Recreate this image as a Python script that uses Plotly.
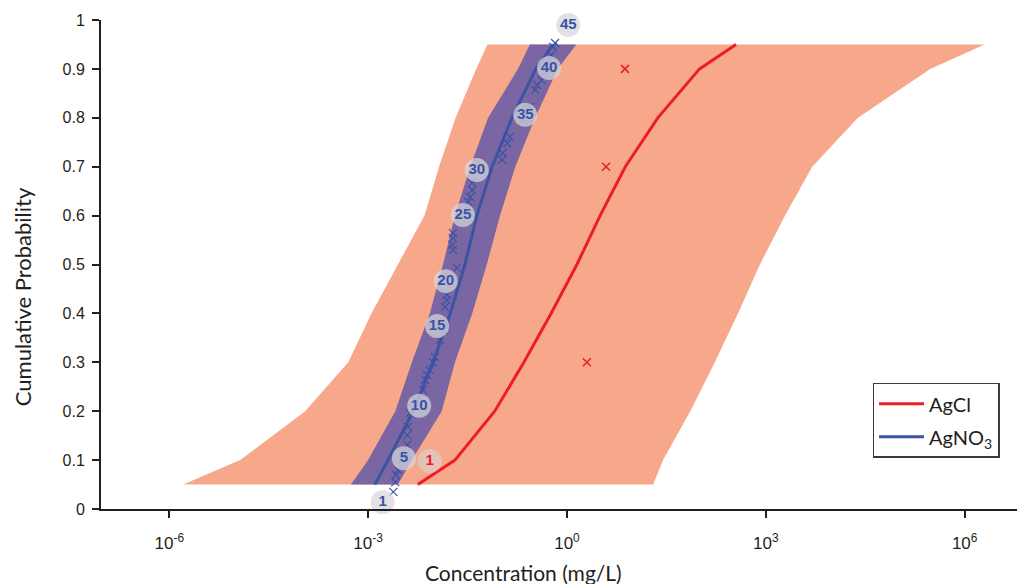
import plotly.graph_objects as go

# ---------------- data (x values are log10 of concentration, mg/L) ----------------
band_p = [0.05, 0.1, 0.2, 0.3, 0.4, 0.5, 0.6, 0.7, 0.8, 0.9, 0.95]

agcl_lo = [-5.79, -4.93, -3.95, -3.30, -2.95, -2.55, -2.15, -1.93, -1.68, -1.37, -1.20]
agcl_hi = [1.30, 1.45, 1.86, 2.23, 2.58, 2.91, 3.29, 3.70, 4.39, 5.48, 6.30]
agcl_med = [-2.25, -1.69, -1.09, -0.65, -0.24, 0.15, 0.50, 0.88, 1.37, 2.00, 2.55]

agno3_lo = [-3.26, -3.00, -2.59, -2.34, -2.07, -1.87, -1.69, -1.46, -1.19, -0.74, -0.56]
agno3_hi = [-2.55, -2.34, -1.89, -1.69, -1.43, -1.21, -1.01, -0.78, -0.48, -0.14, 0.14]
agno3_med = [-2.90, -2.70, -2.32, -2.02, -1.76, -1.54, -1.36, -1.13, -0.83, -0.47, -0.21]

agcl_obs_x = [0.875, 0.59, 0.30]
agcl_obs_p = [0.90, 0.70, 0.30]

agno3_obs_x = [-2.62, -2.59, -2.58, -2.55, -2.47, -2.44, -2.41, -2.41, -2.40, -2.37,
               -2.28, -2.17, -2.14, -2.11, -2.07, -2.02, -1.99, -1.92, -1.87, -1.84,
               -1.81, -1.81, -1.66, -1.72, -1.73, -1.72, -1.72, -1.49, -1.46, -1.43,
               -1.43, -0.98, -0.97, -0.90, -0.86, -0.66, -0.56, -0.48, -0.45, -0.38,
               -0.33, -0.29, -0.24, -0.21, -0.18]
agno3_obs_p = [0.035, 0.055, 0.070, 0.080, 0.102, 0.115, 0.131, 0.151, 0.168, 0.196,
               0.223, 0.243, 0.264, 0.274, 0.284, 0.299, 0.311, 0.346, 0.366, 0.413,
               0.427, 0.438, 0.493, 0.530, 0.540, 0.554, 0.564, 0.628, 0.638, 0.652,
               0.667, 0.714, 0.728, 0.748, 0.761, 0.795, 0.822, 0.857, 0.867, 0.877,
               0.892, 0.914, 0.928, 0.945, 0.953]

agno3_lbl = ["1", "5", "10", "15", "20", "25", "30", "35", "40", "45"]
agno3_lbl_x = [-2.78, -2.46, -2.23, -1.96, -1.83, -1.57, -1.36, -0.63, -0.27, 0.02]
agno3_lbl_p = [0.014, 0.104, 0.211, 0.374, 0.466, 0.601, 0.693, 0.806, 0.902, 0.990]

agcl_lbl = ["1"]
agcl_lbl_x = [-2.07]
agcl_lbl_p = [0.098]

x_tick_exp = [-6, -3, 0, 3, 6]
y_ticks = [0, 0.1, 0.2, 0.3, 0.4, 0.5, 0.6, 0.7, 0.8, 0.9, 1]

# ---------------- styling ----------------
SALMON = "#F7A88B"
PURPLE = "#7A66A2"
RED = "#EE1D25"
BLUE = "#3A53A4"
AXIS = "#231F20"


def tenpow(v):
    return [10 ** a for a in v]


fig = go.Figure()

# AgCl band
fig.add_trace(go.Scatter(
    x=tenpow(agcl_lo + agcl_hi[::-1]), y=band_p + band_p[::-1],
    fill="toself", fillcolor=SALMON, line=dict(width=0), mode="lines",
    showlegend=False, hoverinfo="skip"))
# AgNO3 band
fig.add_trace(go.Scatter(
    x=tenpow(agno3_lo + agno3_hi[::-1]), y=band_p + band_p[::-1],
    fill="toself", fillcolor=PURPLE, line=dict(width=0), mode="lines",
    showlegend=False, hoverinfo="skip"))

# median lines
fig.add_trace(go.Scatter(x=tenpow(agcl_med), y=band_p, mode="lines",
                         line=dict(color=RED, width=3), name="AgCl",
                         legendgroup="a"))
fig.add_trace(go.Scatter(x=tenpow(agno3_med), y=band_p, mode="lines",
                         line=dict(color=BLUE, width=3), name="AgNO<sub>3</sub>",
                         legendgroup="b"))

# observations
fig.add_trace(go.Scatter(x=tenpow(agno3_obs_x), y=agno3_obs_p, mode="markers",
                         marker=dict(symbol="x-thin", size=8,
                                     line=dict(color=BLUE, width=1.2)),
                         showlegend=False, cliponaxis=False))
fig.add_trace(go.Scatter(x=tenpow(agcl_obs_x), y=agcl_obs_p, mode="markers",
                         marker=dict(symbol="x-thin", size=8,
                                     line=dict(color=RED, width=1.5)),
                         showlegend=False))

# numbered labels
fig.add_trace(go.Scatter(x=tenpow(agno3_lbl_x), y=agno3_lbl_p, mode="markers+text",
                         text=["<b>%s</b>" % t for t in agno3_lbl],
                         textposition="middle center",
                         textfont=dict(family="Liberation Sans", size=15, color=BLUE),
                         marker=dict(size=24, color="rgba(215,215,220,0.72)"),
                         showlegend=False, cliponaxis=False))
fig.add_trace(go.Scatter(x=tenpow(agcl_lbl_x), y=agcl_lbl_p, mode="markers+text",
                         text=["<b>%s</b>" % t for t in agcl_lbl],
                         textposition="middle center",
                         textfont=dict(family="Liberation Sans", size=15, color=RED),
                         marker=dict(size=24, color="rgba(215,215,220,0.55)"),
                         showlegend=False, cliponaxis=False))

fig.update_layout(
    width=1017, height=576,
    margin=dict(l=93, r=0, t=12, b=75),
    paper_bgcolor="white", plot_bgcolor="white",
    font=dict(family="Liberation Sans", color=AXIS),
    legend=dict(x=0.835, y=0.258, xanchor="left", yanchor="top",
                bgcolor="white", bordercolor="#3a3a3a", borderwidth=1.5,
                font=dict(family="Lato", size=20, color=AXIS),
                itemwidth=45,
                tracegroupgap=4, traceorder="grouped"),
    xaxis=dict(type="log", range=[-7.03, 6.91],
               tickvals=tenpow(x_tick_exp),
               ticktext=["10<sup>%d</sup>" % e for e in x_tick_exp],
               showline=True, linewidth=2, linecolor=AXIS,
               ticks="outside", ticklen=7, tickwidth=2, tickcolor=AXIS,
               showgrid=False, zeroline=False,
               tickfont=dict(family="Liberation Sans", size=17, color=AXIS),
               ticklabelstandoff=11),
    yaxis=dict(range=[0, 1], tickvals=y_ticks,
               ticktext=["0" if v == 0 else ("1" if v == 1 else "%.1f" % v) for v in y_ticks],
               showline=True, linewidth=2, linecolor=AXIS,
               ticks="outside", ticklen=7, tickwidth=2, tickcolor=AXIS,
               showgrid=False, zeroline=False,
               tickfont=dict(family="Liberation Sans", size=16, color=AXIS),
               ticklabelstandoff=4),
    annotations=[
        dict(text="Concentration (mg/L)", x=0.457, y=-0.129, xref="paper", yref="paper",
             xanchor="center", yanchor="middle", showarrow=False,
             font=dict(family="Lato", size=21, color=AXIS)),
        dict(text="Cumulative Probability", x=-0.085, y=0.434, xref="paper", yref="paper",
             xanchor="center", yanchor="middle", showarrow=False, textangle=-90,
             font=dict(family="Lato", size=22, color=AXIS)),
    ],
)

fig.write_html("out.html")
